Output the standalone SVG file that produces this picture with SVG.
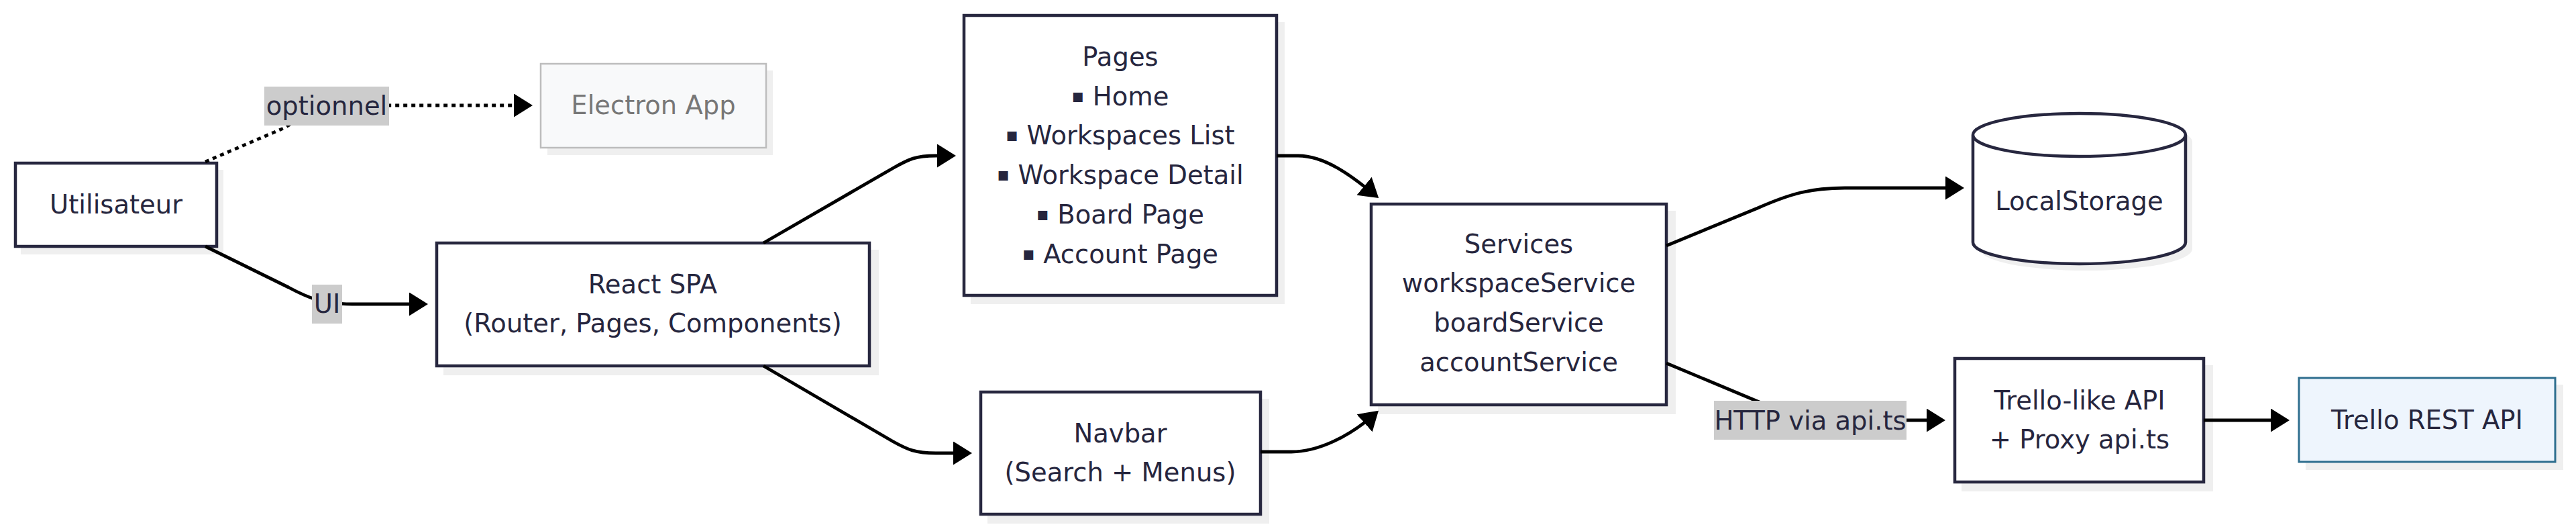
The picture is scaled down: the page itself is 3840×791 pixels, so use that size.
<svg xmlns="http://www.w3.org/2000/svg" width="3840" height="791" viewBox="0 0 3840 791">
<style>
text{font-family:"DejaVu Sans","Noto Sans",sans-serif;font-size:38.5px;fill:#26263e;text-anchor:middle}
.node{fill:#ffffff;stroke:#27273f;stroke-width:4.5}
.shadow{fill:#efefef;stroke:none}
.edge{fill:none;stroke:#000000;stroke-width:4.8}
.dotted{stroke-dasharray:6 6}
.lbl{fill:#cccccc}
.b{font-size:28px}
</style>
<defs>
<marker id="arrow" markerUnits="userSpaceOnUse" viewBox="0 0 28 35" markerWidth="28" markerHeight="35" refX="20" refY="17.5" orient="auto">
<path d="M0,0 L28,17.5 L0,35 z" fill="#000000" stroke="none"/>
</marker>
</defs>
<rect width="3840" height="791" fill="#ffffff"/>
<g id="utilisateur">
<rect class="shadow" x="31" y="253" width="302" height="126"/>
<rect class="node" x="23" y="243" width="300" height="124"/>
<text x="173" y="318">Utilisateur</text>
</g>
<g id="electron">
<rect class="shadow" x="816" y="105" width="336" height="126"/>
<rect x="806" y="95" width="336" height="125" fill="#f8f9fa" stroke="#bdbdbd" stroke-width="2.5"/>
<text x="974" y="170" style="fill:#777777">Electron App</text>
</g>
<g id="react">
<rect class="shadow" x="661" y="372" width="649" height="187"/>
<rect class="node" x="651" y="362" width="645" height="183"/>
<text x="973" y="437">React SPA</text>
<text x="973" y="495">(Router, Pages, Components)</text>
</g>
<g id="pages">
<rect class="shadow" x="1447" y="33" width="468" height="420"/>
<rect class="node" x="1437" y="23" width="466" height="417"/>
<text x="1670" y="98">Pages</text>
<text x="1670" y="157"><tspan class="b" dy="-5">▪</tspan><tspan dy="5"> Home</tspan></text>
<text x="1670" y="215"><tspan class="b" dy="-5">▪</tspan><tspan dy="5"> Workspaces List</tspan></text>
<text x="1670" y="274"><tspan class="b" dy="-5">▪</tspan><tspan dy="5"> Workspace Detail</tspan></text>
<text x="1670" y="333"><tspan class="b" dy="-5">▪</tspan><tspan dy="5"> Board Page</tspan></text>
<text x="1670" y="392"><tspan class="b" dy="-5">▪</tspan><tspan dy="5"> Account Page</tspan></text>
</g>
<g id="navbar">
<rect class="shadow" x="1472" y="594" width="420" height="186"/>
<rect class="node" x="1462" y="584" width="417" height="182"/>
<text x="1670" y="659">Navbar</text>
<text x="1670" y="717">(Search + Menus)</text>
</g>
<g id="services">
<rect class="shadow" x="2054" y="314" width="444" height="303"/>
<rect class="node" x="2044" y="304" width="440" height="299"/>
<text x="2264" y="377">Services</text>
<text x="2264" y="435">workspaceService</text>
<text x="2264" y="494">boardService</text>
<text x="2264" y="553">accountService</text>
</g>
<g id="localstorage">
<path class="shadow" d="M2951,211 a158.5,32 0 0,0 317,0 a158.5,32 0 0,0 -317,0 l0,160 a158.5,32 0 0,0 317,0 l0,-160"/>
<path class="node" d="M2941,201 a158.5,32 0 0,0 317,0 a158.5,32 0 0,0 -317,0 l0,160 a158.5,32 0 0,0 317,0 l0,-160"/>
<text x="3099.5" y="313">LocalStorage</text>
</g>
<g id="trellolike">
<rect class="shadow" x="2924" y="544" width="375" height="188"/>
<rect class="node" x="2914" y="534" width="371" height="184"/>
<text x="3100" y="610">Trello-like API</text>
<text x="3100" y="668">+ Proxy api.ts</text>
</g>
<g id="trellorest">
<rect class="shadow" x="3437" y="573" width="384" height="127"/>
<rect x="3427" y="563" width="382" height="125" fill="#eef5fd" stroke="#2e6e8e" stroke-width="3"/>
<text x="3618" y="639">Trello REST API</text>
</g>
<g id="connectors">
<path class="edge dotted" d="M306,241 L425,190 Q470,160 530,157 L786,157" marker-end="url(#arrow)"/>
<path class="edge" d="M306,367 L430,428 C458,443 480,453 525,453 L630,453" marker-end="url(#arrow)"/>
<path class="edge" d="M1138,362 L1332,250 C1355,237 1365,232 1395,232 L1417,232" marker-end="url(#arrow)"/>
<path class="edge" d="M1138,545 L1330,657 C1353,670 1365,675 1395,675 L1441,675" marker-end="url(#arrow)"/>
<path class="edge" d="M1903,232 L1935,232 C1975,232 2015,262 2049,290" marker-end="url(#arrow)"/>
<path class="edge" d="M1879,673 L1925,673 C1965,673 2012,650 2049,617" marker-end="url(#arrow)"/>
<path class="edge" d="M2484,366 L2620,310 C2670,288 2700,280 2750,280 L2920,280" marker-end="url(#arrow)"/>
<path class="edge" d="M2484,541 L2625,600 C2665,620 2690,626 2730,626 L2892,626" marker-end="url(#arrow)"/>
<path class="edge" d="M3285,626 L3405,626" marker-end="url(#arrow)"/>
<rect class="lbl" x="394" y="129" width="186" height="58"/>
<text x="487" y="171">optionnel</text>
<rect class="lbl" x="465" y="424" width="45" height="58"/>
<text x="487.5" y="466">UI</text>
<rect class="lbl" x="2555" y="597" width="287" height="58"/>
<text x="2698.5" y="640">HTTP via api.ts</text>
</g>
</svg>
